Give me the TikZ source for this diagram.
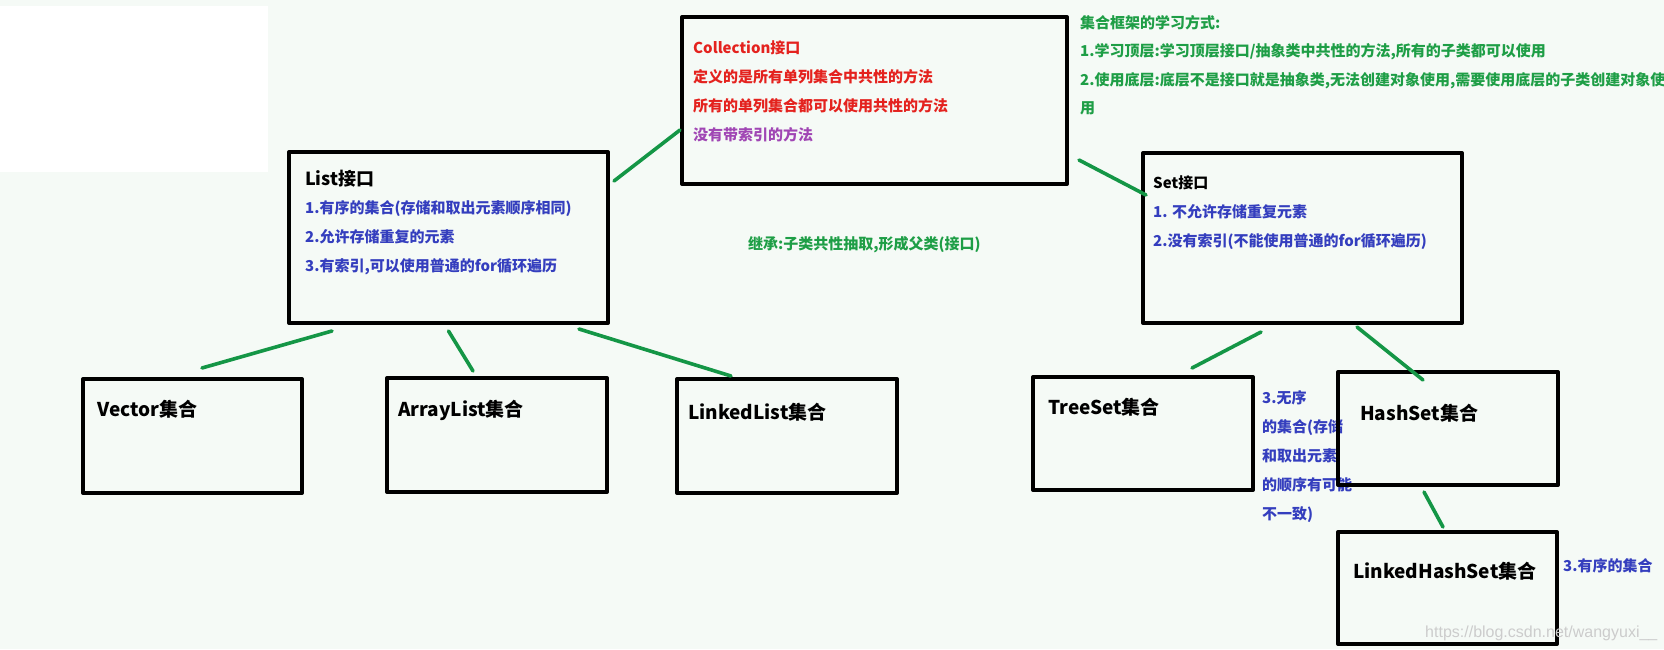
\documentclass[tikz,border=0pt]{standalone}
\usepackage{fontspec}
\newfontfamily\cjkfont{Noto Sans CJK SC}
\newfontfamily\urlfont{Liberation Sans}

\definecolor{bgmint}{RGB}{245,250,246}
\definecolor{linkgreen}{RGB}{20,150,70}
\definecolor{notegreen}{RGB}{30,158,70}
\definecolor{noteblue}{RGB}{52,62,190}
\definecolor{notered}{RGB}{228,34,30}
\definecolor{notepurple}{RGB}{160,70,180}

\begin{document}
\begin{tikzpicture}[x=1pt, y=-1pt, line join=round, line cap=round,
    box/.style={draw=black, line width=4pt, inner sep=0pt},
    link/.style={draw=linkgreen, line width=3.6pt},
    txt/.style={anchor=base west, inner sep=0pt, font=\cjkfont\bfseries\fontsize{15}{18}\selectfont},
    big/.style={txt, font=\cjkfont\bfseries\fontsize{19}{22}\selectfont}]
  % Canvas
  \useasboundingbox (0,0) rectangle (1664,649);
  \fill[bgmint] (0,0) rectangle (1664,649);
  \fill[white] (0,6) rectangle (268,172);

  % Top level
  \node[box, minimum width=385pt, minimum height=167pt] (coll) at (874.5,100.5) {};
  \node[txt, text=notered] (coll1) at (693,53.5) {Collection接口};
  \node[txt, text=notered] (coll2) at (693,82.5) {定义的是所有单列集合中共性的方法};
  \node[txt, text=notered] (coll3) at (693,111.5) {所有的单列集合都可以使用共性的方法};
  \node[txt, text=notepurple] (coll4) at (693,140.5) {没有带索引的方法};

  % Notes on the right
  \node[txt, text=notegreen] (note1) at (1080,28) {集合框架的学习方式:};
  \node[txt, text=notegreen] (note2) at (1080,56) {1.学习顶层:学习顶层接口/抽象类中共性的方法,所有的子类都可以使用};
  \node[txt, text=notegreen] (note3) at (1080,85) {2.使用底层:底层不是接口就是抽象类,无法创建对象使用,需要使用底层的子类创建对象使};
  \node[txt, text=notegreen] (note4) at (1080,113) {用};
  \node[txt, text=notegreen] (inherit) at (748,249) {继承:子类共性抽取,形成父类(接口)};

  % Interfaces
  \node[box, minimum width=319pt, minimum height=171pt] (list) at (448.5,237.5) {};
  \node[txt, font=\cjkfont\bfseries\fontsize{18}{22}\selectfont] (listT) at (305,185) {List接口};
  \node[txt, text=noteblue] (list1) at (305,213) {1.有序的集合(存储和取出元素顺序相同)};
  \node[txt, text=noteblue] (list2) at (305,242) {2.允许存储重复的元素};
  \node[txt, text=noteblue] (list3) at (305,271) {3.有索引,可以使用普通的for循环遍历};

  \node[box, minimum width=319pt, minimum height=170pt] (set) at (1302.5,238) {};
  \node[txt] (setT) at (1153,188) {Set接口};
  \node[txt, text=noteblue] (set1) at (1153,217) {1. 不允许存储重复元素};
  \node[txt, text=noteblue] (set2) at (1153,246) {2.没有索引(不能使用普通的for循环遍历)};

  % Classes
  \node[box, minimum width=219pt, minimum height=114pt] (vector) at (192.5,436) {};
  \node[big] (vectorT) at (97,416) {Vector集合};
  \node[box, minimum width=220pt, minimum height=114pt] (arraylist) at (497,435) {};
  \node[big] (arraylistT) at (398,416) {ArrayList集合};
  \node[box, minimum width=220pt, minimum height=114pt] (linkedlist) at (787,436) {};
  \node[big] (linkedlistT) at (688,419) {LinkedList集合};

  \node[box, minimum width=220pt, minimum height=113pt] (treeset) at (1143,433.5) {};
  \node[big] (treesetT) at (1048,414) {TreeSet集合};
  \node[txt, text=noteblue] (unord1) at (1262,403) {3.无序};
  \node[txt, text=noteblue] (unord2) at (1262,432) {的集合(存储};
  \node[txt, text=noteblue] (unord3) at (1262,461) {和取出元素};
  \node[txt, text=noteblue] (unord4) at (1262,490) {的顺序有可能};
  \node[txt, text=noteblue] (unord5) at (1262,519) {不一致)};
  \node[box, minimum width=220pt, minimum height=113pt] (hashset) at (1448,428.5) {};
  \node[big] (hashsetT) at (1360,420) {HashSet集合};
  \node[box, minimum width=219pt, minimum height=112pt] (lhashset) at (1447.5,588) {};
  \node[big] (lhashsetT) at (1353,578) {LinkedHashSet集合};
  \node[txt, text=noteblue] (ord) at (1563,571) {3.有序的集合};

  % Links
  \draw[link] ([xshift=4pt, yshift=-31pt]list.north east) -- ([yshift=-29.5pt]coll.west);
  \draw[link] ([xshift=10pt, yshift=26pt]coll.south east) -- ([xshift=5pt, yshift=-44pt]set.north west);
  \draw[link] ([xshift=-116.5pt, yshift=-6pt]list.south) -- ([xshift=9.5pt, yshift=9pt]vector.north);
  \draw[link] ([yshift=-6pt]list.south) -- ([xshift=-24pt, yshift=5pt]arraylist.north);
  \draw[link] ([xshift=130.5pt, yshift=-4pt]list.south) -- ([xshift=-56pt, yshift=1pt]linkedlist.north);
  \draw[link] ([xshift=-41.5pt, yshift=-7pt]set.south) -- ([xshift=49pt, yshift=7pt]treeset.north);
  \draw[link] ([xshift=54.5pt, yshift=-2pt]set.south) -- ([xshift=-25pt, yshift=-10pt]hashset.north);
  \draw[link] ([xshift=-24pt, yshift=-5pt]hashset.south) -- ([xshift=-4.5pt, yshift=3pt]lhashset.north);

  % Watermark
  \node[anchor=base west, inner sep=0pt, text=gray!40, font=\urlfont\fontsize{16}{18}\selectfont] (mark) at (1425,637) {https://blog.csdn.net/wangyuxi\_\_};
\end{tikzpicture}
\end{document}
